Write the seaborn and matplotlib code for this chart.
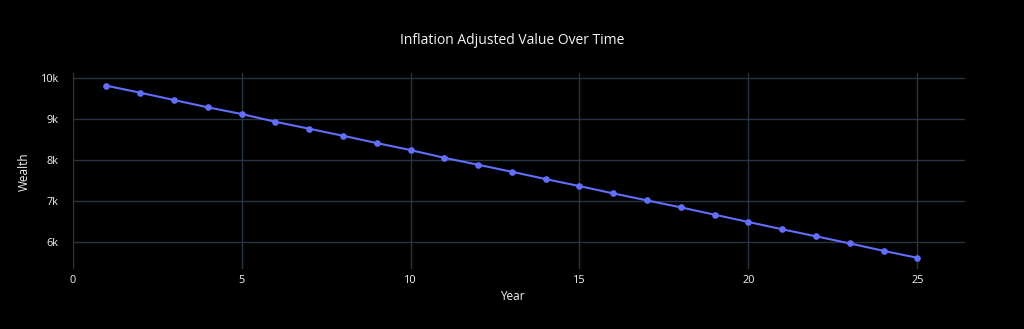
import matplotlib
matplotlib.use("Agg")
import matplotlib.pyplot as plt
from matplotlib.ticker import FuncFormatter, MultipleLocator
import seaborn as sns
import pandas as pd

years = list(range(1, 26))
wealth = [9820, 9649, 9471, 9293, 9130, 8941, 8771, 8600, 8422, 8251,
          8063, 7893, 7722, 7544, 7373, 7195, 7024, 6854, 6676, 6498,
          6320, 6149, 5976, 5795, 5624]
y_ticks = [6000, 7000, 8000, 9000, 10000]

bg = "#000000"
grid = "#283442"
fg = "#f2f5fa"
line_color = "#636efa"

sns.set_theme(style="darkgrid")
plt.rcParams["font.family"] = ["Open Sans", "DejaVu Sans"]

df = pd.DataFrame({"Year": years, "Wealth": wealth})

W, H = 1024, 329
fig = plt.figure(figsize=(W / 100, H / 100), dpi=100, facecolor=bg)
ax = fig.add_axes([0.071, 0.182, 0.871, 0.596])
ax.set_facecolor(bg)

sns.lineplot(data=df, x="Year", y="Wealth", ax=ax, color=line_color,
             linewidth=1.5, marker="o", markersize=4.8,
             markeredgewidth=0, zorder=3)

ax.set_xlim(0, 26.4)
ax.set_ylim(5349, 10129)
ax.xaxis.set_major_locator(MultipleLocator(5))
ax.set_yticks(y_ticks)
ax.yaxis.set_major_formatter(FuncFormatter(lambda v, p: f"{int(v/1000)}k"))

ax.grid(True, color=grid, linewidth=1)
for s in ax.spines.values():
    s.set_visible(False)
ax.tick_params(colors=fg, labelsize=7.8, length=0)
ax.tick_params(axis="x", pad=4)
ax.tick_params(axis="y", pad=10)
ax.set_xlabel("")
ax.set_ylabel("")

fig.text(512 / W, 1 - 296 / H, "Year", color=fg, fontsize=8.5,
         ha="center", va="center")
fig.text(24 / W, 1 - 172 / H, "Wealth", color=fg, fontsize=8.5,
         ha="center", va="center", rotation=90)
fig.text(512 / W, 1 - 41 / H, "Inflation Adjusted Value Over Time", color=fg,
         fontsize=10, ha="center", va="center")

fig.savefig("out.png", dpi=100, facecolor=bg)
